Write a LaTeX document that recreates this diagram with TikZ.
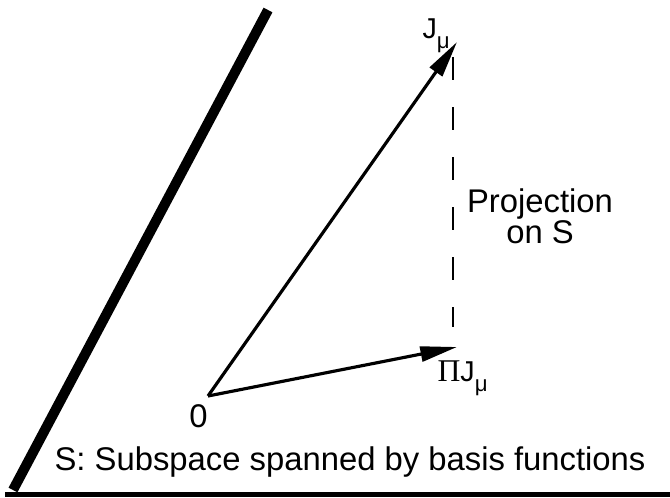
\documentclass[tikz,border=0pt]{standalone}
\usepackage{fontspec}
\setmainfont{Liberation Sans}
\newfontfamily\greekserif{Liberation Serif}
\usetikzlibrary{arrows.meta}

\def\subm{\raisebox{-0.36em}{\fontsize{19}{19}\selectfont μ}}

\begin{document}
\begin{tikzpicture}[x=0.03cm,y=-0.03cm,line width=2.7pt,
  >={Triangle[length=1.1cm,width=0.45cm]},
  txt/.style={font=\fontsize{28}{26.4}\selectfont,inner sep=0pt},
  lab/.style={font=\fontsize{24.5}{24.5}\selectfont,inner sep=0pt}]
\useasboundingbox (0,0) rectangle (670,497);
% ---- subspace S ----
\draw[line width=0.3cm] (13,490) -- (268,10);
\draw[line width=0.15cm] (5,494.5) -- (670,494.5);
% ---- vectors ----
\coordinate (O) at (208,396);
\coordinate (J) at (457,42);
\coordinate (P) at (457,347);
\draw[->] (O) -- (J);
\draw[->] (O) -- (P);
% ---- projection ----
\coordinate (dtop) at (453,57);
\coordinate (dbot) at (453,327);
\draw[line width=2.2pt,dash pattern=on 0.69cm off 0.81cm] (dtop) -- (dbot);
% ---- labels ----
\node[lab,anchor=base west] (Jlab) at (421,38) {J\subm};
\node[lab,anchor=base west] (Plab) at (436,381) {{\greekserif\fontsize{27}{27}\selectfont Π}J\subm};
\node[txt,anchor=base] (zero) at (198.5,427) {0};
\node[txt,align=center] (proj) at (540,216) {Projection\\on S};
\node[txt,anchor=base] (caption) at (350,470) {S: Subspace spanned by basis functions};
\end{tikzpicture}
\end{document}
